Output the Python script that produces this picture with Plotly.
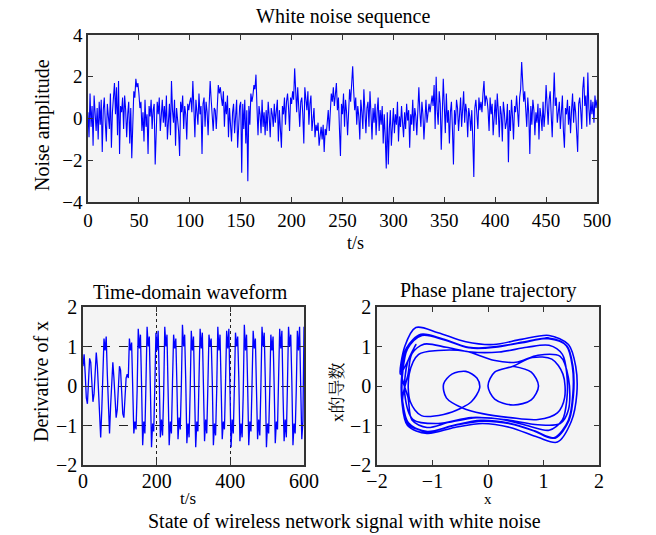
import numpy as np
import plotly.graph_objects as go

# ---------------- data ----------------
noise_values = [
    0.3,-0.9,1.2,-0.4,0.6,-1.3,1.1,0.2,-0.6,0.5,-1.0,0.8,-0.3,0.9,-1.6,0.4,1.0,-0.2,-1.1,0.7,0.1,-0.5,1.2,-1.4,0.3,
    0.9,1.7,0.2,1.5,-0.8,1.8,-1.7,0.6,0.3,1.0,-0.5,1.1,0.4,-0.9,0.2,0.8,-1.2,0.5,-1.9,0.1,1.3,1.0,1.9,1.5,1.7,
    1.2,0.5,0.8,-0.6,0.3,-1.1,0.9,-0.4,0.2,-1.7,0.6,0.1,0.9,-0.5,0.4,0.7,-2.2,-0.3,0.8,0.2,1.0,-0.6,0.5,0.9,-0.2,
    0.6,-0.4,1.1,-1.0,0.3,0.7,-0.8,1.8,0.4,-0.2,0.9,-1.3,0.5,0.1,-0.6,-1.8,0.8,0.3,1.1,-0.5,0.6,0.2,-1.0,0.7,0.4,
    0.8,1.0,0.3,1.8,0.5,-0.9,0.9,0.4,-0.3,1.2,0.2,0.6,-1.7,0.7,1.0,-0.4,0.8,0.3,-0.8,0.6,1.8,0.9,0.2,-0.6,0.5,
    0.4,-0.5,0.9,1.6,1.2,1.5,1.0,0.6,1.3,-0.4,0.8,0.2,1.1,-0.9,0.5,-0.2,-1.1,0.3,0.7,-0.7,0.4,0.9,-1.4,0.1,0.6,
    0.8,-2.6,0.7,-0.5,0.9,-1.2,0.4,-3.0,0.6,-0.3,1.2,0.8,1.1,1.6,1.4,2.1,0.5,-0.8,0.6,0.2,-0.7,0.9,-0.4,0.3,-0.8,
    0.4,-0.6,0.8,0.1,-0.9,0.5,0.2,-0.4,0.7,-0.2,0.3,0.9,-1.1,0.4,-0.5,-1.4,0.6,0.2,1.0,-0.3,0.8,1.2,0.5,-0.6,1.0,
    0.7,1.3,0.9,2.4,1.1,0.3,1.5,0.6,-0.4,0.8,1.0,0.2,-1.2,1.5,0.9,0.4,1.3,-0.3,0.7,1.1,-0.6,0.2,0.5,-0.9,-0.3,
    -0.6,-0.2,-1.3,-0.8,-0.4,-1.0,-0.3,-1.6,-0.5,-0.8,-0.2,0.4,-0.6,0.3,1.2,0.8,1.5,0.6,1.1,1.7,0.4,1.0,-0.5,-1.8,0.7,
    0.2,1.2,-0.4,0.9,0.3,-0.8,0.6,1.4,0.8,1.9,2.5,1.3,0.4,1.0,-0.3,0.6,0.1,-1.0,0.9,0.3,-0.5,1.4,0.2,-0.7,0.5,
    0.8,-0.4,1.3,0.2,-1.0,0.5,-0.2,0.7,-0.8,0.3,1.0,-0.6,0.4,-0.3,0.6,-1.2,0.2,-0.9,-2.4,0.3,-2.2,-0.5,0.4,-1.3,-0.2,
    0.5,-0.7,0.2,-0.3,0.8,-1.1,0.1,-0.4,0.6,-0.2,-0.9,0.3,-0.5,0.7,-0.1,0.4,-1.4,0.2,-0.3,0.9,-0.6,0.5,0.1,-0.8,0.6,
    1.5,0.3,-0.4,0.8,0.2,-1.0,0.5,0.9,-0.2,0.4,0.7,0.3,0.8,1.1,0.6,1.6,-0.5,2.0,0.4,-0.3,1.3,0.7,-1.5,0.9,1.9,
    0.6,-0.7,1.2,-0.2,0.4,-1.2,0.3,0.8,-0.5,-2.2,0.4,-0.3,0.9,0.5,-0.6,0.2,1.0,-0.4,0.6,1.3,-0.2,0.7,0.3,-0.9,0.5,
    0.1,-0.6,0.4,-1.0,-2.8,0.5,0.9,0.2,-0.5,1.0,0.4,0.8,0.3,1.2,1.8,0.6,1.1,0.9,0.4,-0.6,1.0,0.2,0.7,-0.8,0.5,
    0.9,-0.3,1.2,0.4,-0.9,0.6,0.2,-1.1,0.8,0.3,-0.5,-0.2,0.7,-2.1,0.4,-0.6,0.9,0.1,-1.0,0.6,0.3,1.1,0.5,-0.4,1.0,
    1.4,2.7,1.6,0.8,1.3,0.5,-0.4,1.0,0.2,-1.7,0.6,-0.3,0.9,0.4,-0.8,0.3,-0.2,0.7,-1.0,0.5,0.1,-0.6,0.8,-0.4,0.3,
    1.6,0.5,-0.3,0.9,1.3,0.2,-0.9,0.7,2.2,0.6,1.0,-0.2,0.4,0.8,-0.5,0.3,1.1,-0.6,-1.4,0.5,0.2,0.9,-0.3,0.6,-0.7,
    0.4,1.2,-0.2,0.8,0.3,-0.8,-1.6,0.7,1.0,0.4,-0.5,1.4,2.0,0.6,1.1,-0.4,2.2,0.5,-0.3,0.9,0.2,0.8,-0.2,1.1,0.5,
    0.9,
]
noise_time = list(range(len(noise_values)))

wave_step = 3  # seconds between samples
wave_values = [
    # t 0-39: small oscillation in one well
    0.5,0.8,0.3,-0.3,-0.45,0.1,0.7,0.6,0.0,-0.4,-0.2,0.4,0.85,0.5,
    # t 42-72: growing swings
    -0.2,-0.9,-1.3,-0.6,0.4,1.2,0.9,1.25,0.3,-0.8,-1.2,
    # t 75-120: medium oscillation
    -0.5,0.3,0.6,0.2,-0.5,-0.8,-0.6,0.0,0.5,0.4,-0.2,-0.7,-0.8,-0.4,0.2,0.3,
    # t 123-600: large inter-well cycles
    0.2,1.2,0.9,1.1,0.1,-1.2,-0.9,-1.1,
    -0.1,1.45,0.95,1.3,0.0,-1.5,-0.9,-1.2,
    0.1,1.5,1.0,1.25,-0.1,-1.55,-0.95,-1.15,
    0.0,1.35,0.9,1.4,0.2,-1.3,-0.85,-1.25,
    -0.2,1.5,1.0,1.3,-0.1,-1.5,-0.9,-1.2,
    0.1,1.3,0.95,1.2,0.0,-1.35,-0.8,-1.1,
    0.0,1.55,1.0,1.3,0.1,-1.45,-0.95,-1.3,
    -0.1,1.4,0.9,1.25,-0.2,-1.55,-0.9,-1.15,
    0.2,1.45,0.95,1.35,0.0,-1.4,-0.85,-1.2,
    0.0,1.3,1.0,1.2,0.1,-1.5,-0.95,-1.25,
    -0.1,1.5,0.9,1.3,0.0,-1.35,-0.9,-1.1,
    0.1,1.4,0.95,1.45,-0.1,-1.55,-0.85,-1.2,
    0.0,1.35,1.0,1.25,0.2,-1.4,-0.95,-1.3,
    -0.2,1.55,0.9,1.3,0.0,-1.5,-0.9,-1.15,
    0.1,1.4,0.95,1.2,-0.1,-1.35,-0.85,-1.25,
    0.0,1.5,1.0,1.35,0.1,-1.55,-0.95,-1.2,
    -0.1,1.3,0.9,1.25,0.0,-1.45,-0.9,-1.1,
    0.2,1.45,0.95,1.4,-0.2,-1.4,-0.85,-1.3,
    0.0,1.5,1.0,1.3,0.1,-1.5,-0.95,-1.2,
    -0.1,1.4,0.9,1.5,0.0,-1.35,-0.9,1.5,
]
wave_time = [i * wave_step for i in range(len(wave_values))]

# phase-plane trajectory: transient part (inner loops)
phase_x_transient = [0.45,0.78,0.91,0.78,0.45,0.12,0.0,0.12,0.45,0.8,1.15,1.35,1.38,1.25,0.9,0.4,-0.1,-0.47,
                     -0.75,-0.8,-0.65,-0.4,-0.2,-0.15,-0.3,-0.47,-0.8,-1.2,-1.4,-1.42,-1.25,-0.9,-0.4,0.1,0.5,
                     0.9,1.3,1.45,1.45,1.3,0.9,0.3,-0.3,-0.9,-1.35,-1.5,-1.45,-1.3]
phase_y_transient = [0.5,0.35,0.0,-0.35,-0.48,-0.33,0.0,0.35,0.5,0.72,0.68,0.3,-0.3,-0.68,-0.85,-0.8,-0.7,-0.55,
                     -0.3,0.05,0.3,0.37,0.2,-0.05,-0.4,-0.55,-0.72,-0.75,-0.4,0.3,0.8,0.9,0.88,0.65,0.6,
                     0.78,0.75,0.2,-0.6,-0.95,-0.98,-0.85,-0.8,-0.95,-0.85,-0.2,0.6,1.05]
# phase-plane trajectory: steady large cycles (outer band)
phase_x_cycles = [
    -1.58,-1.5,-1.3,-0.9,-0.4,0.1,0.6,1.1,1.45,1.58,1.6,1.5,1.25,0.9,0.4,-0.1,-0.6,-1.1,-1.45,-1.55,
    -1.55,-1.46,-1.2,-0.8,-0.35,0.1,0.6,1.1,1.41,1.52,1.53,1.45,1.2,0.85,0.4,-0.1,-0.6,-1.1,-1.43,-1.54,
    -1.54,-1.46,-1.19,-0.77,-0.32,0.13,0.63,1.11,1.42,1.53,1.54,1.45,1.18,0.82,0.37,-0.13,-0.63,-1.11,-1.43,-1.54,
    -1.44,-1.37,-1.15,-0.75,-0.3,0.2,0.7,1.1,1.34,1.42,1.42,1.34,1.1,0.75,0.3,-0.2,-0.7,-1.1,-1.37,-1.44,
    -1.56,-1.47,-1.21,-0.81,-0.36,0.09,0.59,1.09,1.41,1.53,1.54,1.46,1.21,0.86,0.41,-0.09,-0.59,-1.09,-1.44,-1.55,
    -1.54,-1.45,-1.19,-0.78,-0.34,0.11,0.61,1.11,1.42,1.53,1.54,1.45,1.19,0.84,0.39,-0.11,-0.61,-1.1,-1.43,-1.54,
    -1.55,-1.46,-1.2,-0.8,-0.35,0.1,0.6,1.1,1.42,1.53,1.54,1.45,1.2,0.84,0.4,-0.1,-0.6,-1.1,-1.43,-1.54,-1.55,
]
phase_y_cycles = [
    0.3,1.0,1.48,1.35,1.12,1.05,1.18,1.28,1.05,0.5,-0.2,-0.9,-1.42,-1.3,-1.05,-0.95,-1.05,-1.2,-1.0,-0.4,
    0.33,0.95,1.3,1.18,0.97,0.99,1.1,1.21,1.02,0.49,-0.2,-0.86,-1.31,-1.14,-0.95,-0.88,-0.99,-1.15,-0.95,-0.38,
    0.31,0.94,1.28,1.16,0.96,0.98,1.11,1.21,1.01,0.47,-0.22,-0.88,-1.32,-1.13,-0.94,-0.87,-1.0,-1.16,-0.94,-0.36,
    0.3,0.82,1.06,0.98,0.86,0.86,0.98,1.03,0.8,0.3,-0.35,-0.86,-1.12,-1.02,-0.86,-0.8,-0.92,-1.05,-0.86,-0.3,
    0.32,0.96,1.31,1.19,0.98,0.98,1.09,1.2,1.03,0.5,-0.19,-0.87,-1.32,-1.15,-0.96,-0.89,-0.99,-1.15,-0.96,-0.37,
    0.3,0.94,1.29,1.17,0.97,0.99,1.1,1.21,1.02,0.48,-0.21,-0.87,-1.31,-1.14,-0.95,-0.88,-1.0,-1.16,-0.95,-0.37,
    0.31,0.95,1.3,1.17,0.98,0.98,1.1,1.2,1.02,0.49,-0.2,-0.87,-1.31,-1.14,-0.95,-0.88,-0.99,-1.15,-0.95,-0.38,0.31,
]

noise_ticks = [0, 50, 100, 150, 200, 250, 300, 350, 400, 450, 500]
noise_yticks = [-4, -2, 0, 2, 4]
wave_ticks = [0, 200, 400, 600]
unit_ticks = [-2, -1, 0, 1, 2]

# ---------------- figure ----------------
W, H = 656, 535
SERIF = "Liberation Serif, Times New Roman, serif"
BLUE = "#0000ff"

def px(x):
    return x / W

def py(y):
    return 1 - y / H

fig = go.Figure()
fig.add_trace(go.Scatter(x=noise_time, y=noise_values, mode="lines",
                         line=dict(color=BLUE, width=1.1), xaxis="x", yaxis="y", showlegend=False))
fig.add_trace(go.Scatter(x=wave_time, y=wave_values, mode="lines",
                         line=dict(color=BLUE, width=1.3), xaxis="x2", yaxis="y2", showlegend=False))
fig.add_trace(go.Scatter(x=phase_x_transient + phase_x_cycles, y=phase_y_transient + phase_y_cycles,
                         mode="lines", line=dict(color=BLUE, width=1.6, shape="spline", smoothing=0.9),
                         xaxis="x3", yaxis="y3", showlegend=False))

axis_common = dict(showline=True, linecolor="#333333", linewidth=1.5, mirror="allticks",
                   ticks="inside", ticklen=5, tickcolor="#333333", zeroline=False, showgrid=False,
                   automargin=False,
                   tickfont=dict(family=SERIF, size=19, color="black"))
big_tick = dict(family=SERIF, size=20, color="black")

fig.update_layout(
    width=W, height=H, autosize=False,
    margin=dict(l=0, r=0, t=0, b=0, autoexpand=False),
    paper_bgcolor="white", plot_bgcolor="#f4f4f4",
    xaxis=dict(domain=[px(88), px(597)], range=[0, 500], tickvals=noise_ticks, anchor="y", **axis_common),
    yaxis=dict(domain=[py(202), py(35)], range=[-4, 4], tickvals=noise_yticks, anchor="x", **axis_common),
    xaxis2=dict(domain=[px(83), px(304)], range=[0, 600], tickvals=wave_ticks, anchor="y2",
                ticklabelstandoff=-3,
                **{**axis_common, "showgrid": True, "gridcolor": "#222222", "griddash": "dot", "gridwidth": 1,
                   "tickfont": big_tick}),
    yaxis2=dict(domain=[py(465), py(307)], range=[-2, 2], tickvals=unit_ticks, anchor="x2",
                **{**axis_common, "showgrid": True, "gridcolor": "#222222", "griddash": "dash", "gridwidth": 1,
                   "tickfont": big_tick}),
    xaxis3=dict(domain=[px(377), px(599)], range=[-2, 2], tickvals=unit_ticks, anchor="y3",
                ticklabelstandoff=-3,
                **{**axis_common, "tickfont": big_tick}),
    yaxis3=dict(domain=[py(465), py(307)], range=[-2, 2], tickvals=unit_ticks, anchor="x3",
                **{**axis_common, "tickfont": big_tick}),
)

def label(text, x, y, size=18, angle=0, family=SERIF):
    fig.add_annotation(text=text, x=px(x), y=py(y), xref="paper", yref="paper",
                       xanchor="center", yanchor="middle", showarrow=False, textangle=angle,
                       font=dict(family=family, size=size, color="black"))

label("White noise sequence", 343, 16, size=20)
label("Noise amplitude", 42, 125, size=20, angle=-90)
label("t/s", 355, 243, size=18)
label("Time-domain waveform", 190, 292, size=20)
label("Derivative of x", 41, 382, size=20, angle=-90)
label("t/s", 188, 498, size=17)
label("Phase plane trajectory", 488, 290, size=20)
label("x的导数", 337, 392, size=17, angle=-90,
      family="Liberation Serif, Noto Serif CJK SC, Noto Sans CJK SC, serif")
label("x", 488, 499, size=15)
label("State of wireless network signal with white noise", 344, 521, size=20)

fig.write_html("out.html")
